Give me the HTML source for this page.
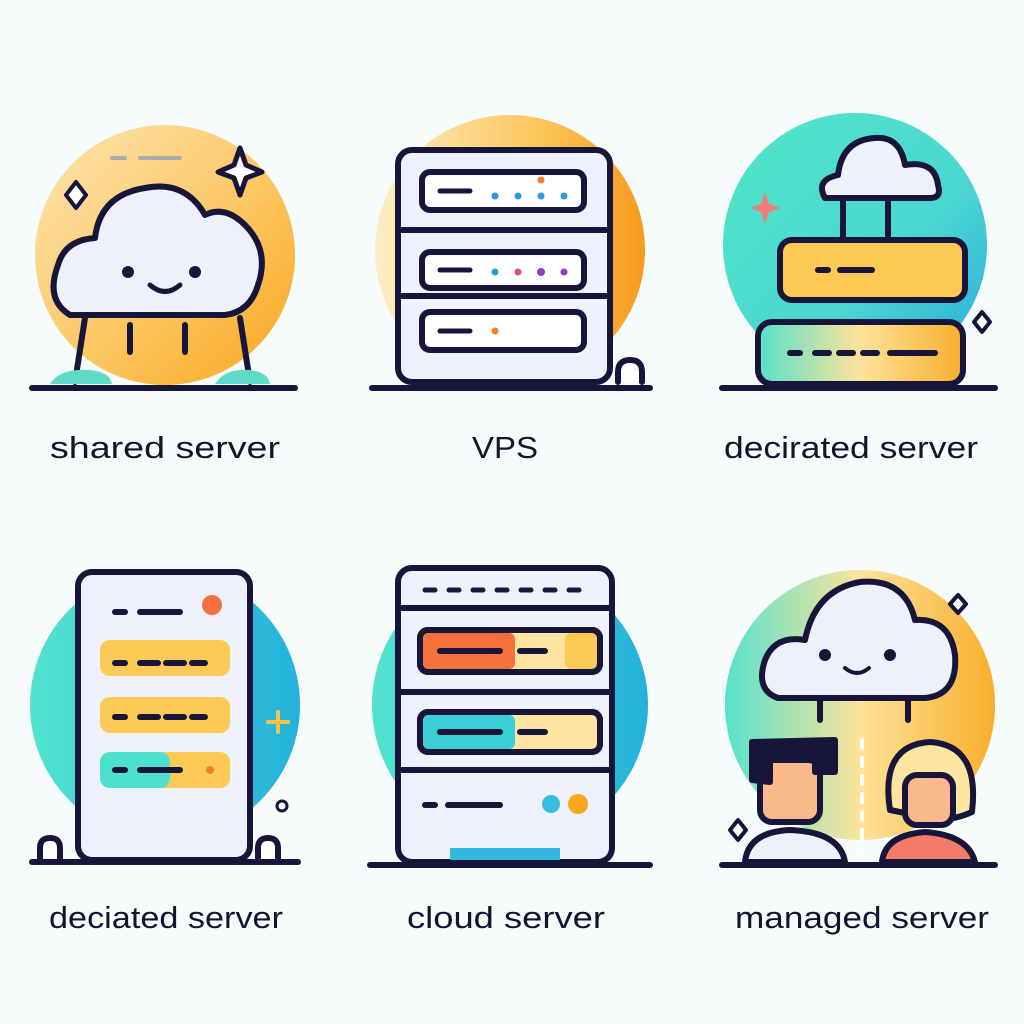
<!DOCTYPE html>
<html><head><meta charset="utf-8"><style>
html,body{margin:0;padding:0;background:#f6fbfb;}
svg{display:block}
text{font-family:"Liberation Sans",sans-serif;font-size:31px;fill:#15142e;}
</style></head><body>
<svg width="1024" height="1024" viewBox="0 0 1024 1024" xmlns="http://www.w3.org/2000/svg">
<defs>
<linearGradient id="g1" x1="0" y1="0" x2="1" y2="1"><stop offset="0" stop-color="#fde6b4"/><stop offset="0.6" stop-color="#fcc35a"/><stop offset="1" stop-color="#f8a61e"/></linearGradient>
<linearGradient id="g2" x1="0" y1="0" x2="1" y2="0"><stop offset="0" stop-color="#fdeec7"/><stop offset="0.6" stop-color="#fcc65c"/><stop offset="1" stop-color="#f89a1c"/></linearGradient>
<linearGradient id="g3" x1="0" y1="0" x2="1" y2="1"><stop offset="0" stop-color="#4fe6c8"/><stop offset="0.6" stop-color="#4cd6d0"/><stop offset="1" stop-color="#25a8e0"/></linearGradient>
<linearGradient id="g4" x1="0" y1="0" x2="1" y2="0"><stop offset="0" stop-color="#52e3cf"/><stop offset="1" stop-color="#24b1dc"/></linearGradient>
<linearGradient id="g6" x1="0" y1="0" x2="1" y2="0"><stop offset="0" stop-color="#56e2cc"/><stop offset="0.5" stop-color="#fde39a"/><stop offset="1" stop-color="#f9ae2c"/></linearGradient>
</defs>
<g stroke="#17163a" stroke-width="6" stroke-linecap="round" stroke-linejoin="round">
<!-- Panel 1 -->
<circle cx="165" cy="255" r="130" fill="url(#g1)" stroke="none"/>
<path d="M70 315 Q45 300 58 265 Q65 240 95 238 Q100 195 145 188 Q185 180 205 215 Q225 205 245 225 Q270 250 258 285 Q250 312 225 315 Z" fill="#eef0fb"/>
<line x1="85" y1="318" x2="75" y2="382"/><line x1="240" y1="318" x2="250" y2="382"/>
<line x1="130" y1="325" x2="130" y2="352"/><line x1="185" y1="325" x2="185" y2="352"/>
<path d="M50 384 Q60 368 90 370 Q110 372 112 384 Z" fill="#5fd9c8" stroke="none"/>
<path d="M215 384 Q225 368 250 370 Q268 372 270 384 Z" fill="#5fd9c8" stroke="none"/>
<line x1="32" y1="388" x2="295" y2="388"/>
<path d="M150 285 Q165 298 180 285" fill="none" stroke-width="5"/>
<circle cx="128" cy="272" r="3" fill="#17163a"/><circle cx="195" cy="272" r="3" fill="#17163a"/>
<path d="M240 148 L246 165 L262 172 L246 178 L240 195 L234 178 L218 172 L234 165 Z" fill="#fff" stroke-width="5"/>
<path d="M76 182 L86 195 L76 208 L66 195 Z" fill="#fff" stroke-width="4"/>
<line x1="112" y1="158" x2="125" y2="158" stroke-width="4" stroke="#aaa"/><line x1="140" y1="158" x2="180" y2="158" stroke-width="4" stroke="#aaa"/>
<!-- Panel 2 -->
<circle cx="510" cy="250" r="135" fill="url(#g2)" stroke="none"/>
<rect x="398" y="150" width="212" height="232" rx="14" fill="#eef0fb"/>
<line x1="400" y1="230" x2="608" y2="230"/><line x1="400" y1="296" x2="608" y2="296"/>
<rect x="422" y="172" width="162" height="38" rx="8" fill="#fff"/>
<rect x="422" y="252" width="162" height="36" rx="8" fill="#fff"/>
<rect x="422" y="312" width="162" height="38" rx="8" fill="#fff"/>
<line x1="440" y1="191" x2="470" y2="191" stroke-width="5"/><line x1="440" y1="270" x2="470" y2="270" stroke-width="5"/><line x1="440" y1="331" x2="470" y2="331" stroke-width="5"/>
<g stroke="none"><circle cx="495" cy="196" r="3.5" fill="#2a9ad8"/><circle cx="518" cy="196" r="3.5" fill="#2a9ad8"/><circle cx="541" cy="196" r="3.5" fill="#2a9ad8"/><circle cx="564" cy="196" r="3.5" fill="#2a9ad8"/><circle cx="541" cy="180" r="3.5" fill="#f57d2a"/>
<circle cx="495" cy="272" r="3.5" fill="#2a9ad8"/><circle cx="518" cy="272" r="3.5" fill="#e4467d"/><circle cx="541" cy="272" r="4" fill="#8a3fc8"/><circle cx="564" cy="272" r="3.5" fill="#8a3fc8"/>
<circle cx="495" cy="331" r="3.5" fill="#f57d2a"/></g>
<path d="M618 382 L618 372 Q618 360 630 360 Q642 360 642 372 L642 382" fill="#fff"/>
<line x1="372" y1="388" x2="650" y2="388"/>
<!-- Panel 3 -->
<circle cx="855" cy="245" r="132" fill="url(#g3)" stroke="none"/>
<path d="M825 198 Q815 180 838 175 Q842 140 875 138 Q900 136 905 165 Q935 160 938 185 Q942 198 930 198 Z" fill="#eef0fb"/>
<line x1="843" y1="200" x2="843" y2="240"/><line x1="888" y1="200" x2="888" y2="240"/>
<rect x="780" y="240" width="185" height="60" rx="12" fill="#fcc955"/>
<rect x="758" y="322" width="205" height="62" rx="14" fill="url(#g6)"/>
<line x1="818" y1="270" x2="828" y2="270"/><line x1="840" y1="270" x2="872" y2="270"/>
<line x1="790" y1="353" x2="800" y2="353"/><line x1="815" y1="353" x2="880" y2="353" stroke-dasharray="14 10"/><line x1="890" y1="353" x2="935" y2="353"/>
<path d="M765 192 L769 204 L780 208 L769 212 L765 224 L761 212 L750 208 L761 204 Z" fill="#f47a7a" stroke="none"/>
<path d="M982 312 L990 322 L982 332 L974 322 Z" fill="#fff" stroke-width="4"/>
<line x1="722" y1="388" x2="995" y2="388"/>
<!-- Panel 4 -->
<circle cx="165" cy="705" r="135" fill="url(#g4)" stroke="none"/>
<rect x="78" y="572" width="172" height="288" rx="14" fill="#eef0fb"/>
<rect x="100" y="640" width="130" height="36" rx="10" fill="#fcc955" stroke="none"/>
<rect x="100" y="697" width="130" height="36" rx="10" fill="#fcc955" stroke="none"/>
<rect x="100" y="752" width="130" height="36" rx="10" fill="#fcc955" stroke="none"/>
<rect x="100" y="752" width="70" height="36" rx="10" fill="#4ee0cf" stroke="none"/>
<line x1="115" y1="612" x2="125" y2="612"/><line x1="140" y1="612" x2="180" y2="612"/>
<line x1="115" y1="663" x2="125" y2="663"/><line x1="140" y1="663" x2="205" y2="663" stroke-dasharray="18 8"/>
<line x1="115" y1="717" x2="125" y2="717"/><line x1="140" y1="717" x2="205" y2="717" stroke-dasharray="18 8"/>
<line x1="115" y1="770" x2="125" y2="770"/><line x1="140" y1="770" x2="180" y2="770"/>
<circle cx="212" cy="605" r="10" fill="#f5703a" stroke="none"/><circle cx="210" cy="770" r="4" fill="#f57d2a" stroke="none"/>
<path d="M278 712 L278 732 M268 722 L288 722" stroke="#f8c24a" stroke-width="4"/>
<circle cx="282" cy="806" r="5" fill="none" stroke-width="3"/>
<path d="M40 860 L40 848 Q40 838 50 838 Q60 838 60 848 L60 860" fill="#fff"/>
<path d="M258 860 L258 848 Q258 838 268 838 Q278 838 278 848 L278 860" fill="#fff"/>
<line x1="32" y1="862" x2="298" y2="862"/>
<!-- Panel 5 -->
<circle cx="510" cy="705" r="138" fill="url(#g4)" stroke="none"/>
<rect x="398" y="568" width="214" height="294" rx="14" fill="#eef0fb"/>
<line x1="400" y1="608" x2="610" y2="608"/><line x1="400" y1="692" x2="610" y2="692"/><line x1="400" y1="770" x2="610" y2="770"/>
<line x1="425" y1="590" x2="585" y2="590" stroke-dasharray="10 14" stroke-width="5"/>
<rect x="420" y="630" width="180" height="42" rx="8" fill="#fde4a0"/>
<rect x="423" y="633" width="92" height="36" rx="6" fill="#f5703a" stroke="none"/>
<rect x="565" y="633" width="32" height="36" rx="6" fill="#fcc955" stroke="none"/>
<rect x="420" y="712" width="180" height="40" rx="8" fill="#fde4a0"/>
<rect x="423" y="715" width="92" height="34" rx="6" fill="#38cfd6" stroke="none"/>
<rect x="420" y="630" width="180" height="42" rx="8" fill="none"/><rect x="420" y="712" width="180" height="40" rx="8" fill="none"/>
<line x1="440" y1="651" x2="500" y2="651"/><line x1="520" y1="651" x2="545" y2="651"/>
<line x1="440" y1="732" x2="500" y2="732"/><line x1="520" y1="732" x2="545" y2="732"/>
<line x1="425" y1="805" x2="435" y2="805"/><line x1="448" y1="805" x2="500" y2="805"/>
<circle cx="551" cy="804" r="9" fill="#38bde0" stroke="none"/><circle cx="578" cy="804" r="10" fill="#f8a61e" stroke="none"/>
<rect x="450" y="848" width="110" height="12" fill="#30b8df" stroke="none"/>
<line x1="370" y1="865" x2="650" y2="865"/>
<!-- Panel 6 -->
<circle cx="860" cy="705" r="135" fill="url(#g6)" stroke="none"/>
<path d="M778 698 Q755 690 765 660 Q775 635 805 640 Q815 590 860 582 Q905 578 915 620 Q950 618 955 655 Q958 695 925 698 Z" fill="#eef0fb"/>
<path d="M845 668 Q857 678 869 668" fill="none" stroke-width="4"/>
<circle cx="825" cy="655" r="3" fill="#17163a"/><circle cx="890" cy="655" r="3" fill="#17163a"/>
<line x1="820" y1="700" x2="820" y2="720"/><line x1="908" y1="700" x2="908" y2="720"/>
<path d="M958 595 L966 604 L958 613 L950 604 Z" fill="#fff" stroke-width="4"/>
<path d="M738 820 L746 830 L738 840 L730 830 Z" fill="#fff" stroke-width="4"/>
<line x1="862" y1="740" x2="862" y2="860" stroke="#fff" stroke-width="4" stroke-dasharray="8 10"/>
<path d="M745 862 Q748 832 790 830 Q840 832 845 862 Z" fill="#eef0fb"/>
<rect x="760" y="760" width="60" height="62" rx="12" fill="#f9b98a"/>
<path d="M752 780 L752 742 L835 740 L835 772 L815 772 L815 760 L770 760 L770 782 Z" fill="#17163a"/>
<path d="M882 862 Q885 835 925 832 Q968 835 975 862 Z" fill="#f47a6a"/>
<path d="M890 810 Q880 745 930 742 Q980 745 972 812 Q950 822 930 818 Z" fill="#fde4a0"/>
<rect x="905" y="775" width="48" height="50" rx="12" fill="#f9b98a"/>
<line x1="722" y1="865" x2="995" y2="865"/>
</g>
<text x="165" y="458" text-anchor="middle" textLength="230" lengthAdjust="spacingAndGlyphs">shared server</text>
<text x="505" y="458" text-anchor="middle" textLength="66" lengthAdjust="spacingAndGlyphs">VPS</text>
<text x="851" y="458" text-anchor="middle" textLength="254" lengthAdjust="spacingAndGlyphs">decirated server</text>
<text x="166" y="928" text-anchor="middle" textLength="234" lengthAdjust="spacingAndGlyphs">deciated server</text>
<text x="506" y="928" text-anchor="middle" textLength="198" lengthAdjust="spacingAndGlyphs">cloud server</text>
<text x="862" y="928" text-anchor="middle" textLength="254" lengthAdjust="spacingAndGlyphs">managed server</text>
</svg>
</body></html>
